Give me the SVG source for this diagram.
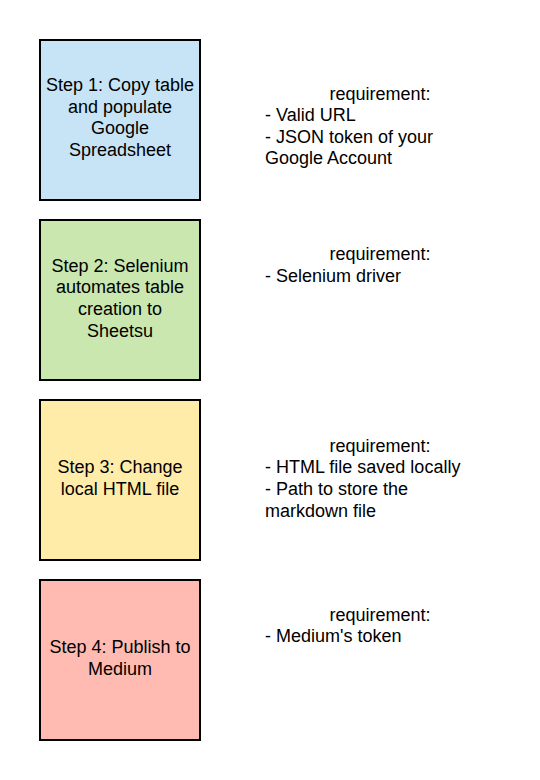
<svg xmlns="http://www.w3.org/2000/svg" width="540" height="780" viewBox="0 0 540 780">
<style>
.box{stroke:#000;stroke-width:2}
text{font-family:"Liberation Sans",Arial,sans-serif;font-size:18px;fill:#000}
.c{text-anchor:middle}
</style>
<rect width="540" height="780" fill="#fff"/>
<g id="step1">
<rect class="box" x="40" y="40" width="160" height="160" fill="#c7e4f6"/>
<text class="c" x="120" y="91">Step 1: Copy table</text>
<text class="c" x="120" y="112.6">and populate</text>
<text class="c" x="120" y="134.2">Google</text>
<text class="c" x="120" y="155.8">Spreadsheet</text>
</g>
<g id="req1">
<text class="c" x="380" y="99.5">requirement:</text>
<text x="265" y="121.1">- Valid URL</text>
<text x="265" y="142.7">- JSON token of your</text>
<text x="265" y="164.3">Google Account</text>
</g>
<g id="step2">
<rect class="box" x="40" y="220" width="160" height="160" fill="#c9e7ae"/>
<text class="c" x="120" y="271.7">Step 2: Selenium</text>
<text class="c" x="120" y="293.3">automates table</text>
<text class="c" x="120" y="314.9">creation to</text>
<text class="c" x="120" y="336.5">Sheetsu</text>
</g>
<g id="req2">
<text class="c" x="380" y="260.3">requirement:</text>
<text x="265" y="281.9">- Selenium driver</text>
</g>
<g id="step3">
<rect class="box" x="40" y="400" width="160" height="160" fill="#ffeca9"/>
<text class="c" x="120" y="473.3">Step 3: Change</text>
<text class="c" x="120" y="495">local HTML file</text>
</g>
<g id="req3">
<text class="c" x="380" y="451.7">requirement:</text>
<text x="265" y="473.3">- HTML file saved locally</text>
<text x="265" y="495">- Path to store the</text>
<text x="265" y="516.6">markdown file</text>
</g>
<g id="step4">
<rect class="box" x="40" y="580" width="160" height="160" fill="#ffbbb1"/>
<text class="c" x="120" y="653.3">Step 4: Publish to</text>
<text class="c" x="120" y="675">Medium</text>
</g>
<g id="req4">
<text class="c" x="380" y="620.5">requirement:</text>
<text x="265" y="642.1">- Medium's token</text>
</g>
<g id="connectors"/>
</svg>
